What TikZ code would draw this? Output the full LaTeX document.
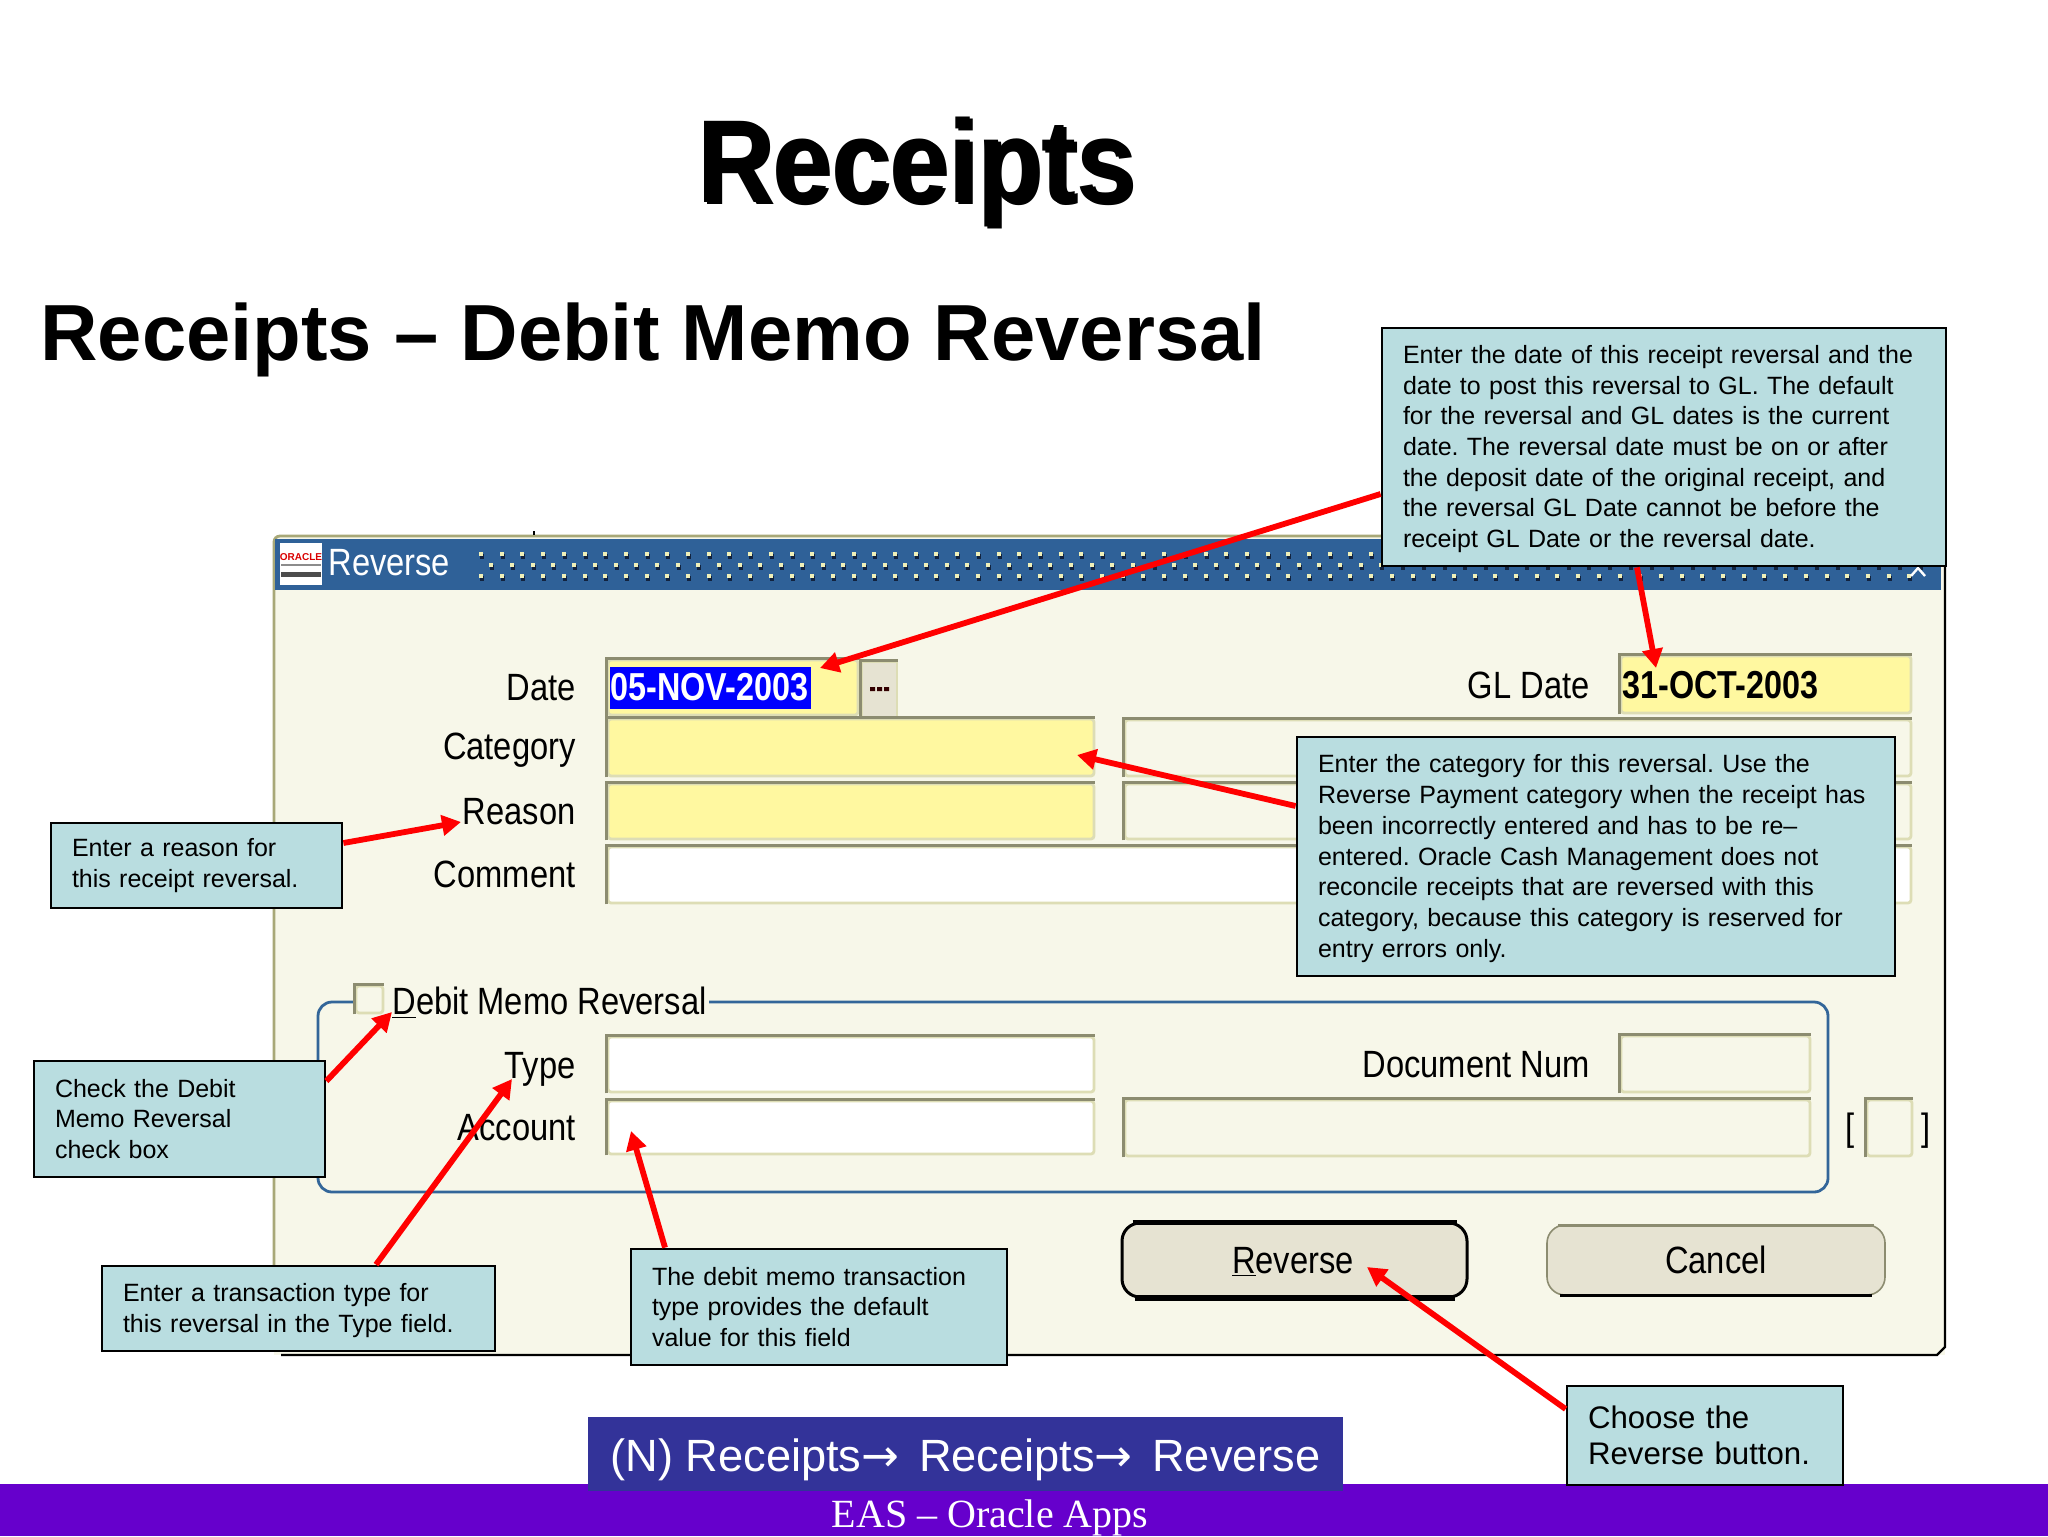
\documentclass[tikz,border=0pt]{standalone}
\usepackage{fontspec}
\setmainfont{Liberation Sans}
\newfontfamily\serifft{Liberation Serif}
\newfontfamily\arrowft{DejaVu Sans}
\newfontfamily\formft[FakeStretch=0.86]{Liberation Sans}
\newfontfamily\formbd[FakeStretch=0.83]{Liberation Sans Bold}
\newfontfamily\titleft[FakeStretch=0.89]{Liberation Sans Bold}
\definecolor{calloutbg}{HTML}{B9DDE0}
\definecolor{winbg}{HTML}{F7F7E9}
\definecolor{titlebar}{HTML}{2F6198}
\definecolor{fieldyel}{HTML}{FFF8A0}
\definecolor{bevdark}{HTML}{8C8C70}
\definecolor{bevlight}{HTML}{DDDDB5}
\definecolor{winedge}{HTML}{A8A878}
\definecolor{groupline}{HTML}{336699}
\definecolor{btnbg}{HTML}{E6E3D2}
\definecolor{navblue}{HTML}{333399}
\definecolor{footer}{HTML}{6600CC}
\definecolor{dotc}{HTML}{F0F0B8}
\definecolor{dotd}{HTML}{12233F}
\usetikzlibrary{arrows.meta,calc}
\newcommand{\lowerfirst}{\rule{0pt}{11.1pt}}
\tikzset{
  x=0.5pt,y=-0.5pt,
  callout/.style={draw=black,line width=1.4pt,fill=calloutbg,align=left,inner xsep=10.5pt,inner ysep=0pt,
    font=\frenchspacing\fontsize{12.5}{15.35}\selectfont,anchor=center},
  fieldbox/.style={draw=bevlight,line width=1.4pt,rounded corners=1.5pt,inner sep=0pt,anchor=center},
  bevel/.style={draw=bevdark,line width=1.5pt},
  formlabel/.style={font=\formft\fontsize{19}{22}\selectfont,inner sep=0pt,text=black},
  pointer/.style={draw=red,line width=2.9pt,-{Triangle[length=9.5pt,width=10pt]}},
  btn/.style={fill=btnbg,rounded corners=9pt,inner sep=0pt,anchor=center,formlabel},
}
% name, x1,y1,x2,y2, fill
\newcommand{\fld}[6]{%
  \node[fieldbox,fill=#6,minimum width={(#4-#2)*0.5pt},minimum height={(#5-#3)*0.5pt}] (#1) at ({(#2+#4)/2},{(#3+#5)/2}) {};
  \draw[bevel] (#1.south west) -- (#1.north west) -- (#1.north east);
}
% name, x1,y1,x2,y2, text
\newcommand{\cbox}[6][]{%
  \node[callout,#1,text width={(#5-#3)*0.5pt-21pt},minimum height={(#6-#4)*0.5pt}] (#2) at ({(#3+#5)/2},{(#4+#6)/2})
}
\begin{document}
\begin{tikzpicture}
\useasboundingbox (0,0) rectangle (2048,1536);
\fill[white] (0,0) rectangle (2048,1536);
% footer and nav
\fill[footer] (0,1484) rectangle (2048,1536);
\node[font=\serifft\fontsize{20}{24}\selectfont,text=white,inner sep=0pt] (foot) at (990,1517.5) {EAS – Oracle Apps};
\node[fill=navblue,minimum width=377.5pt,minimum height=37pt,inner sep=0pt] (nav) at (965,1454) {};
\node[text=white,font=\fontsize{22.6}{26}\selectfont,inner sep=0pt] (navtext) at (965.5,1460) {(N) Receipts{\arrowft →}\hspace{3.5pt} Receipts{\arrowft →}\hspace{3.5pt} Reverse};
% headings
\node[font=\titleft\fontsize{59}{66}\selectfont,inner sep=0pt,anchor=base] (titleshadow) at (919,204) {Receipts};
\node[font=\titleft\fontsize{59}{66}\selectfont,inner sep=0pt,anchor=base] (title) at (916,202) {Receipts};
\node[font=\bfseries\fontsize{39.8}{46}\selectfont,inner sep=0pt,anchor=base west] (sub) at (40,360) {Receipts – Debit Memo Reversal};
% window
\fill[winbg] (274,536) rectangle (1945,1355);
\draw[winedge,line width=1.4pt,rounded corners=3pt] (274,1340) -- (274,536) -- (1945,536);
\draw[black,line width=1.1pt] (1945,536) -- (1945,1347) -- (1937,1355) -- (281,1355);
\draw[black,line width=1pt] (534,531) -- (534,535);
\fill[titlebar] (275,539) rectangle (1941,590);
\foreach \i in {0,...,69}{
  \pgfmathsetmacro{\dx}{479+20.7*\i}
  \fill[dotd] (\dx+1,554) rectangle +(4,5);
  \fill[dotc] (\dx,552) rectangle +(4,4);
  \fill[dotd] (\dx+11.3,565) rectangle +(4,5);
  \fill[dotc] (\dx+10.3,563) rectangle +(4,4);
  \fill[dotd] (\dx+1,576) rectangle +(4,5);
  \fill[dotc] (\dx,574) rectangle +(4,4);
}
\draw[white,line width=1.2pt] (1911,576) -- (1918,568) -- (1925,576);
% logo
\fill[white] (280,543) rectangle (322,585);
\node[font=\bfseries\fontsize{5}{6}\selectfont,text=red!85!black,inner sep=0pt] (logotext) at (301,557) {ORACLE};
\fill[black!45] (281,564) rectangle (321,566);
\fill[black!70] (281,572) rectangle (321,577);
\node[formlabel,text=white,anchor=mid west] (wintitle) at (328,570) {Reverse};
% fields
\fld{fdate}{608}{660}{858}{715}{fieldyel}
\fill[blue] (610,667) rectangle (811,709);
\node[font=\formbd\fontsize{19.5}{22}\selectfont,text=white,inner sep=0pt,anchor=mid west] (vdate) at (610,695) {05-NOV-2003};
\node[draw=bevlight,fill=btnbg,line width=1pt,minimum width=17.5pt,minimum height=27.5pt,inner sep=0pt] (fdots) at (879,689) {};
\draw[bevel] (fdots.south west) -- (fdots.north west) -- (fdots.north east);
\fill[black!80!red] (870,687) rectangle +(5,4) (877,687) rectangle +(5,4) (884,687) rectangle +(5,4);
\fld{fcat}{608}{719}{1094}{776}{fieldyel}
\fld{freason}{608}{784}{1094}{839}{fieldyel}
\fld{fcomment}{608}{847}{1911}{903}{white}
\fld{fcat2}{1125}{720}{1911}{776}{winbg}
\fld{freason2}{1125}{784}{1911}{839}{winbg}
\fld{fgl}{1621}{656}{1911}{713}{fieldyel}
\node[font=\formbd\fontsize{19.5}{22}\selectfont,inner sep=0pt,anchor=mid west] (vgl) at (1622,693) {31-OCT-2003};
% labels
\node[formlabel,anchor=mid east] (ldate) at (576,695) {Date};
\node[formlabel,anchor=mid east] (lcat) at (576,754.5) {Category};
\node[formlabel,anchor=mid east] (lreason) at (576,819.5) {Reason};
\node[formlabel,anchor=mid east] (lcomment) at (576,882.5) {Comment};
\node[formlabel,anchor=mid east] (lgl) at (1590,693) {GL Date};
% group
\draw[groupline,line width=1.4pt,rounded corners=7pt] (318,1002) rectangle (1828,1192);
\node[fill=winbg,minimum width=17pt,minimum height=16pt,inner sep=0pt] (gapc) at (373,1000) {};
\node[fieldbox,fill=winbg,minimum width=13.5pt,minimum height=13.5pt] (chk) at (369.5,999.5) {};
\draw[bevel] (chk.south west) -- (chk.north west) -- (chk.north east);
\node[formlabel,fill=winbg,anchor=mid west,inner xsep=1pt,inner ysep=3pt] (lgroup) at (390,1009.5) {\underline{D}ebit Memo Reversal};
\fld{ftype}{608}{1037}{1094}{1092}{white}
\fld{facct}{608}{1101}{1094}{1154}{white}
\fld{fdoc}{1621}{1036}{1810}{1092}{winbg}
\fld{facct2}{1125}{1100}{1810}{1156}{winbg}
\fld{fsmall}{1867}{1100}{1912}{1156}{winbg}
\node[formlabel,anchor=mid east] (ltype) at (576,1073.5) {Type};
\node[formlabel,anchor=mid east] (lacct) at (576,1135.5) {Account};
\node[formlabel,anchor=mid east] (ldoc) at (1590,1072) {Document Num};
\node[formlabel,anchor=center] (brl) at (1850,1131) {[};
\node[formlabel,anchor=center] (brr) at (1926,1131) {]};
% buttons
\node[btn,draw=black,line width=1.5pt,minimum width=172.5pt,minimum height=37pt] (brev) at (1294.5,1260) {};
\draw[black,line width=2.6pt] ($(brev.north west)+(12,1)$) -- ($(brev.north east)+(-12,1)$);
\draw[black,line width=3pt] ($(brev.south west)+(14,-1)$) -- ($(brev.south east)+(-14,-1)$);
\node[formlabel] (trevb) at (1293,1262) {\underline{R}everse};
\node[btn,draw=bevdark,line width=.8pt,minimum width=169pt,minimum height=35pt] (bcan) at (1716,1260) {};
\draw[bevdark,line width=1.6pt] ($(bcan.north west)+(12,1)$) -- ($(bcan.north east)+(-12,1)$);
\draw[black,line width=1.4pt] ($(bcan.south west)+(14,0)$) -- ($(bcan.south east)+(-14,0)$);
\node[formlabel] (tcanb) at (1716,1260) {Cancel};
% tips
\coordinate (tdate) at (820,668);
\coordinate (tgl) at (1656,668);
\coordinate (tcat) at (1077,755);
\coordinate (treason) at (461,822);
\coordinate (tcheck) at (392,1012);
\coordinate (ttype) at (512,1079);
\coordinate (tacct) at (631,1131);
\coordinate (trev) at (1367,1267);
% callouts
\cbox{cdate}{1382}{328}{1946}{566}{\lowerfirst Enter the date of this receipt reversal and the\\date to post this reversal to GL. The default\\for the reversal and GL dates is the current\\date. The reversal date must be on or after\\the deposit date of the original receipt, and\\the reversal GL Date cannot be before the\\receipt GL Date or the reversal date.};
\cbox{ccat}{1297}{737}{1895}{976}{\lowerfirst Enter the category for this reversal. Use the\\Reverse Payment category when the receipt has\\been incorrectly entered and has to be re–\\entered. Oracle Cash Management does not\\reconcile receipts that are reversed with this\\category, because this category is reserved for\\entry errors only.};
\cbox{creason}{51}{823}{342}{908}{Enter a reason for\\this receipt reversal.};
\cbox{ccheck}{34}{1061}{325}{1177}{Check the Debit\\Memo Reversal\\check box};
\cbox{ctype}{102}{1266}{495}{1351}{\lowerfirst Enter a transaction type for\\this reversal in the Type field.};
\cbox{cacct}{631}{1249}{1007}{1365}{The debit memo transaction\\type provides the default\\value for this field};
\cbox[font=\frenchspacing\fontsize{15.6}{18.3}\selectfont]{crev}{1567}{1386}{1843}{1485}{Choose the\\Reverse button.};
% connectors, from each callout's edge to its target
\draw[pointer] (cdate.west |- 0,494) -- (tdate);
\draw[pointer] (cdate.south -| 1637,0) -- (tgl);
\draw[pointer] (ccat.west |- 0,806) -- (tcat);
\draw[pointer] (creason.east |- 0,843) -- (treason);
\draw[pointer] (ccheck.east |- 0,1081) -- (tcheck);
\draw[pointer] (ctype.north -| 376,0) -- (ttype);
\draw[pointer] (cacct.north -| 665,0) -- (tacct);
\draw[pointer] (crev.west |- 0,1409) -- (trev);
\end{tikzpicture}
\end{document}
